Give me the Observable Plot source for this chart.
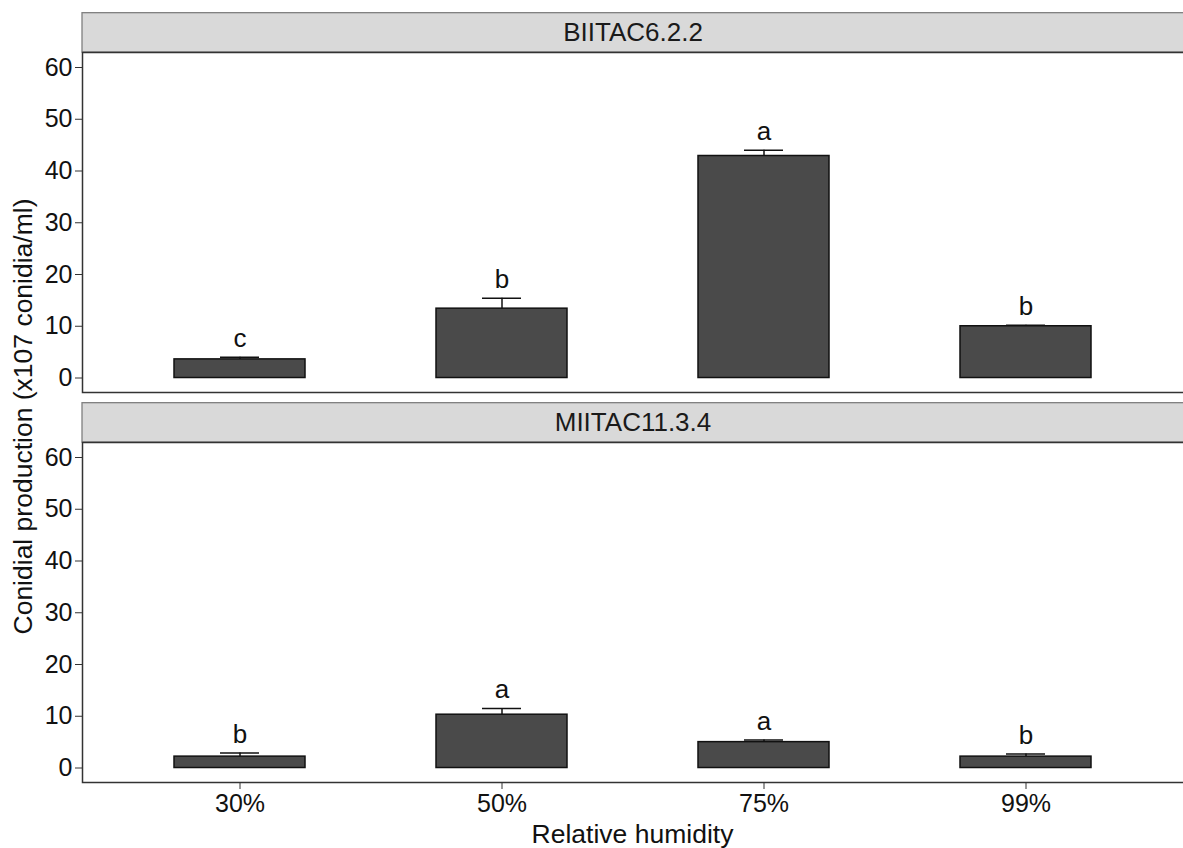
<!DOCTYPE html>
<html>
<head>
<meta charset="utf-8">
<script src="https://cdn.jsdelivr.net/npm/d3@7"></script>
<script src="https://cdn.jsdelivr.net/npm/@observablehq/plot@0.6"></script>
<style>
  html, body { margin: 0; padding: 0; background: #fff; overflow: hidden; }
  #chart svg { display: block; }
</style>
</head>
<body>
<div id="chart"></div>
<script>
// ---- data ----
const isolates = ["BIITAC6.2.2", "MIITAC11.3.4"];
const humidity = ["30%", "50%", "75%", "99%"];
const meanBIITAC = [3.6, 13.4, 42.9, 10.0];
const upperBIITAC = [4.0, 15.4, 44.0, 10.2];
const lettersBIITAC = ["c", "b", "a", "b"];
const meanMIITAC = [2.2, 10.3, 5.0, 2.2];
const upperMIITAC = [2.9, 11.5, 5.4, 2.7];
const lettersMIITAC = ["b", "a", "a", "b"];
const yTicks = [0, 10, 20, 30, 40, 50, 60];
const yDomain = [-2.8, 62.9];
const stripTop = 70.5;

const rows = [];
humidity.forEach((h, i) => {
  rows.push({isolate: isolates[0], rh: h, mean: meanBIITAC[i], upper: upperBIITAC[i], letter: lettersBIITAC[i]});
  rows.push({isolate: isolates[1], rh: h, mean: meanMIITAC[i], upper: upperMIITAC[i], letter: lettersMIITAC[i]});
});
const strips = isolates.map(d => ({isolate: d, lo: yDomain[1], hi: stripTop, mid: (yDomain[1] + stripTop) / 2}));

const font = "'Liberation Sans', Arial, Helvetica, sans-serif";

const chart = Plot.plot({
  width: 1183,
  height: 848,
  marginLeft: 82,
  marginRight: 0,
  marginTop: 52,
  marginBottom: 65,
  style: {fontFamily: font, fontSize: "25px", color: "#111", background: "#fff", overflow: "visible"},
  x: {type: "band", domain: humidity, paddingInner: 0.5, paddingOuter: 0.35},
  y: {domain: yDomain},
  fy: {domain: isolates, paddingInner: 0.128, paddingOuter: 0, axis: null, label: null},
  marks: [
    Plot.barY(strips, {fy: "isolate", y1: "lo", y2: "hi", fill: "#d9d9d9", stroke: "#7f7f7f", strokeWidth: 1.3, insetRight: -4}),
    Plot.text(strips, {fy: "isolate", y: "mid", text: "isolate", fontSize: 26, fill: "#1a1a1a"}),
    Plot.barY(rows, {x: "rh", y: "mean", fy: "isolate", fill: "#4a4a4a", stroke: "#111", strokeWidth: 1.5}),
    Plot.ruleX(rows, {x: "rh", y1: "mean", y2: "upper", fy: "isolate", stroke: "#111", strokeWidth: 1.5}),
    Plot.tickY(rows, {x: "rh", y: "upper", fy: "isolate", stroke: "#111", strokeWidth: 1.5, insetLeft: 46, insetRight: 46}),
    Plot.text(rows, {x: "rh", y: "upper", fy: "isolate", text: "letter", dy: -18.5, fontSize: 26, fill: "#111"}),
    Plot.frame({stroke: "#333", strokeWidth: 1.5, insetRight: -4}),
    Plot.axisY({ticks: yTicks, tickSize: 7, tickPadding: 3, fontSize: 25, label: null, stroke: "#333"}),
    Plot.axisX({tickSize: 7, tickPadding: 5, fontSize: 25, label: null, stroke: "#333"})
  ]
});

const svg = d3.select(chart);
svg.append("text")
  .attr("x", 632.5).attr("y", 843)
  .attr("text-anchor", "middle")
  .attr("font-family", font).attr("font-size", 26.5).attr("fill", "#111")
  .text("Relative humidity");
svg.append("text")
  .attr("transform", "translate(32,416.5) rotate(-90)")
  .attr("text-anchor", "middle")
  .attr("font-family", font).attr("font-size", 26.5).attr("fill", "#111")
  .text("Conidial production (x107 conidia/ml)");

document.getElementById("chart").appendChild(chart);
</script>
</body>
</html>
